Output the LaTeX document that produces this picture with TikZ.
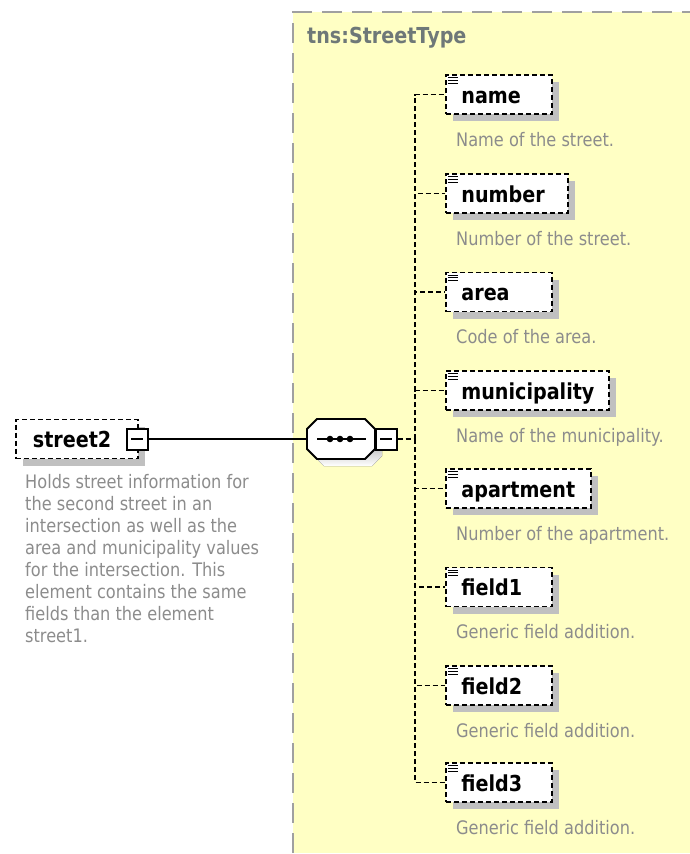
\documentclass[tikz,border=0pt]{standalone}
\usepackage{fontspec}
\usepackage{tikz}
\usetikzlibrary{positioning, shadows}

\newfontfamily\xsdfont[FakeStretch=0.87]{DejaVu Sans}

\definecolor{typebg}{RGB}{255,255,196}
\definecolor{typeline}{RGB}{160,160,160}
\definecolor{shade}{RGB}{192,192,192}
\definecolor{notegray}{RGB}{140,140,140}
\definecolor{titlegray}{RGB}{110,120,120}

\tikzset{
  boxed/.style={draw, line width=1.8pt, dash pattern=on 5pt off 3pt, fill=white,
    anchor=west, inner xsep=15.5pt, inner ysep=0pt, minimum height=39pt,
    text height=18pt, text depth=1pt,
    font=\xsdfont\bfseries\fontsize{22}{26}\selectfont,
    drop shadow={shadow xshift=7pt, shadow yshift=-7pt, fill=shade, opacity=1}},
  elem/.style={boxed,
    path picture={
      \foreach \k in {0,1,2}
        \draw[solid, line width=1pt] ([shift={(2pt,-2.5pt-2.8pt*\k)}]path picture bounding box.north west) -- ++(10pt,0pt);
    }},
  note/.style={font=\xsdfont\fontsize{18.6}{22}\selectfont, text=notegray, inner sep=0pt, align=left},
  minus/.style={draw, line width=2pt, fill=white, minimum size=21pt, inner sep=0pt,
    path picture={\draw[line width=1.5pt] ([xshift=-6pt]path picture bounding box.center) -- ++(12pt,0pt);}},
  seqbox/.style={minimum width=68pt, minimum height=40pt, inner sep=0pt},
  seqpath/.style={insert path={++(-24,-20) -- ++(48,0) -- ++(10,10) -- ++(0,20) -- ++(-10,10)
    -- ++(-48,0) -- ++(-10,-10) -- ++(0,-20) -- cycle}},
  conn/.style={line width=1.8pt, dash pattern=on 5pt off 3pt},
}

\begin{document}
\begin{tikzpicture}[x=1pt, y=-1pt]
    \useasboundingbox (0,0) rectangle (689,854);

    % complex type area
    \fill[typebg] (293,12) rectangle (700,853);
    \draw[typeline, line width=2pt, dash pattern=on 20pt off 10pt] (293,853) -- (293,12) -- (700,12);
    \node[font=\xsdfont\bfseries\fontsize{22}{26}\selectfont, text=titlegray, anchor=base west, inner sep=0pt] (typename) at (307,43) {tns:StreetType};

    % left element
    \node[boxed, text width=88pt, inner xsep=17pt] (street2) at (15,439) {street2};
    \node[minus] (s2minus) at (137,439) {};
    \node[note] (street2note) [below right=15pt and 10pt of street2.south west] {Holds street information for\\the second street in an\\intersection as well as the\\area and municipality values\\for the intersection. This\\element contains the same\\fields than the element\\street1.};

    % sequence
    \node[seqbox] (seq) at (341,439) {};
    \fill[shade] ([shift={(7pt,-7pt)}]seq.center) [seqpath];
    \draw[line width=1.8pt, fill=white] (seq.center) [seqpath];
    \draw[line width=2pt] ([xshift=-24pt]seq.center) -- ([xshift=25pt]seq.center);
    \foreach \d in {-11,-1,9}
        \fill ([xshift=\d pt]seq.center) circle (3.3pt);
    \node[minus] (seqminus) at (386,439) {};
    \coordinate (trunk) at (415,439);

    % child elements
    \node[elem, text width=75pt] (name) at (445,94.5) {name};
    \node[elem, text width=91pt] (number) at (445,193.5) {number};
    \node[elem, text width=75pt] (area) at (445,292) {area};
    \node[elem, text width=132pt] (municipality) at (445,390.5) {municipality};
    \node[elem, text width=114pt] (apartment) at (445,488.5) {apartment};
    \node[elem, text width=75pt] (field1) at (445,587) {field1};
    \node[elem, text width=75pt] (field2) at (445,685.5) {field2};
    \node[elem, text width=75pt] (field3) at (445,782.5) {field3};

    \node[note] (namenote) [below right=17pt and 11pt of name.south west] {Name of the street.};
    \node[note] (numbernote) [below right=17pt and 11pt of number.south west] {Number of the street.};
    \node[note] (areanote) [below right=17pt and 11pt of area.south west] {Code of the area.};
    \node[note] (municipalitynote) [below right=17pt and 11pt of municipality.south west] {Name of the municipality.};
    \node[note] (apartmentnote) [below right=17pt and 11pt of apartment.south west] {Number of the apartment.};
    \node[note] (field1note) [below right=17pt and 11pt of field1.south west] {Generic field addition.};
    \node[note] (field2note) [below right=17pt and 11pt of field2.south west] {Generic field addition.};
    \node[note] (field3note) [below right=17pt and 11pt of field3.south west] {Generic field addition.};

    % connectors
    \draw[line width=2pt] (s2minus) -- (seq);
    \draw[conn] (seqminus) -- (trunk);
    \foreach \e in {name,number,area,municipality,apartment,field1,field2,field3}
        \draw[conn] (trunk) |- (\e.west);
\end{tikzpicture}
\end{document}
